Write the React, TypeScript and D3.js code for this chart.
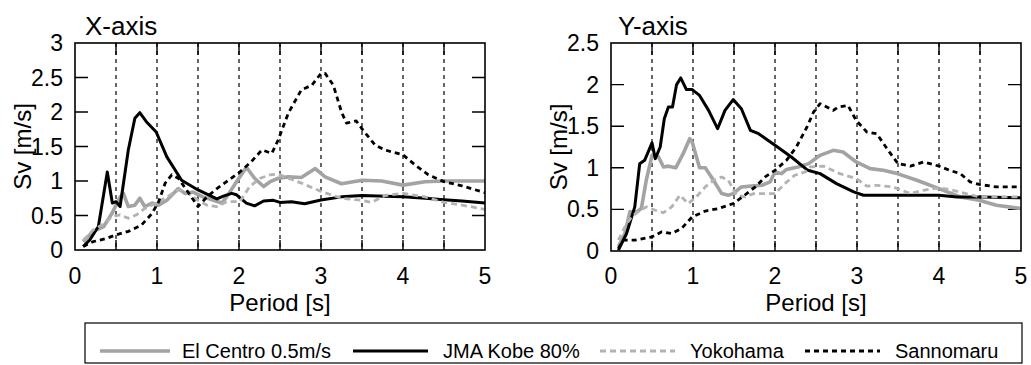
import React, { useEffect, useRef } from 'react';
import * as d3 from 'd3';

// [period (s), Sv (m/s)]
const elCentroX = [[0.1,0.12],[0.22,0.27],[0.35,0.34],[0.45,0.53],[0.55,0.77],[0.59,0.82],[0.65,0.63],[0.73,0.65],[0.79,0.75],[0.85,0.63],[0.94,0.68],[1.02,0.65],[1.12,0.72],[1.26,0.89],[1.34,0.82],[1.44,0.84],[1.56,0.77],[1.69,0.72],[1.79,0.68],[1.85,0.77],[1.97,0.99],[2.09,1.2],[2.19,1.04],[2.3,0.92],[2.38,0.99],[2.48,1.04],[2.6,1.06],[2.76,1.05],[2.93,1.18],[3.05,1.06],[3.25,0.96],[3.5,1.01],[3.74,1.0],[4.0,0.94],[4.27,0.99],[4.5,1.0],[5.0,1.0]];
const kobeX = [[0.1,0.05],[0.18,0.145],[0.285,0.34],[0.394,1.13],[0.455,0.68],[0.5,0.7],[0.55,0.63],[0.65,1.45],[0.73,1.91],[0.79,1.99],[0.87,1.86],[0.99,1.71],[1.12,1.35],[1.3,1.01],[1.5,0.87],[1.73,0.74],[1.81,0.78],[1.91,0.82],[1.97,0.8],[2.09,0.68],[2.19,0.64],[2.3,0.71],[2.42,0.72],[2.5,0.69],[2.64,0.7],[2.8,0.67],[3.0,0.725],[3.25,0.77],[3.5,0.79],[3.78,0.78],[4.0,0.77],[4.27,0.75],[4.5,0.73],[4.72,0.71],[5.0,0.68]];
const yokohamaX = [[0.1,0.14],[0.22,0.29],[0.35,0.38],[0.45,0.48],[0.55,0.51],[0.65,0.46],[0.75,0.51],[0.85,0.6],[0.99,0.68],[1.12,0.77],[1.26,0.87],[1.36,0.84],[1.5,0.72],[1.61,0.65],[1.73,0.63],[1.85,0.7],[2.01,0.7],[2.13,0.92],[2.26,1.04],[2.38,1.09],[2.48,1.1],[2.6,1.04],[2.76,0.97],[3.0,0.85],[3.25,0.75],[3.5,0.72],[3.62,0.69],[3.78,0.79],[4.0,0.82],[4.27,0.77],[4.5,0.69],[4.72,0.65],[5.0,0.59]];
const sannomaruX = [[0.1,0.05],[0.22,0.12],[0.39,0.17],[0.5,0.22],[0.65,0.27],[0.81,0.36],[0.94,0.53],[1.02,0.7],[1.1,0.97],[1.18,1.09],[1.26,1.04],[1.36,0.87],[1.5,0.63],[1.61,0.77],[1.73,0.89],[1.87,1.01],[2.01,1.13],[2.15,1.28],[2.28,1.45],[2.4,1.4],[2.48,1.6],[2.6,1.98],[2.76,2.32],[2.89,2.39],[3.0,2.56],[3.05,2.56],[3.15,2.39],[3.25,2.0],[3.31,1.84],[3.43,1.87],[3.51,1.74],[3.66,1.52],[3.78,1.45],[4.0,1.38],[4.15,1.23],[4.31,1.09],[4.5,0.99],[4.72,0.93],[5.0,0.83]];

const elCentroY = [[0.09,0.05],[0.17,0.21],[0.23,0.47],[0.31,0.47],[0.37,0.51],[0.43,0.85],[0.5,1.15],[0.58,1.13],[0.64,1.01],[0.7,1.02],[0.79,1.0],[0.88,1.17],[0.96,1.35],[0.99,1.31],[1.08,1.0],[1.15,1.0],[1.25,0.85],[1.35,0.69],[1.43,0.67],[1.49,0.69],[1.59,0.77],[1.71,0.78],[1.84,0.79],[1.94,0.83],[2.0,0.95],[2.08,0.93],[2.14,0.98],[2.28,1.01],[2.41,1.05],[2.55,1.15],[2.71,1.21],[2.83,1.19],[2.99,1.07],[3.16,0.99],[3.32,0.97],[3.49,0.93],[3.73,0.85],[4.0,0.75],[4.26,0.65],[4.49,0.61],[4.7,0.55],[5.0,0.51]];
const kobeY = [[0.09,0.01],[0.19,0.21],[0.29,0.53],[0.35,1.05],[0.41,1.09],[0.5,1.3],[0.54,1.11],[0.6,1.25],[0.65,1.59],[0.7,1.73],[0.75,1.73],[0.8,2.0],[0.85,2.08],[0.92,1.94],[0.99,1.94],[1.08,1.87],[1.19,1.69],[1.3,1.47],[1.39,1.69],[1.49,1.82],[1.59,1.71],[1.7,1.45],[1.8,1.41],[2.0,1.27],[2.2,1.13],[2.4,0.97],[2.55,0.93],[2.75,0.81],[2.96,0.71],[3.08,0.67],[3.48,0.67],[4.0,0.67],[4.22,0.65],[4.49,0.65],[5.0,0.64]];
const yokohamaY = [[0.09,0.13],[0.17,0.29],[0.25,0.41],[0.33,0.47],[0.43,0.53],[0.54,0.49],[0.64,0.46],[0.74,0.53],[0.84,0.67],[0.94,0.57],[1.04,0.65],[1.15,0.77],[1.25,0.85],[1.35,0.89],[1.43,0.85],[1.53,0.67],[1.63,0.65],[1.74,0.69],[1.88,0.69],[2.0,0.69],[2.12,0.81],[2.24,0.91],[2.37,0.95],[2.43,1.01],[2.59,1.02],[2.79,0.93],[2.99,0.87],[3.12,0.78],[3.24,0.79],[3.44,0.77],[3.65,0.69],[3.81,0.73],[4.0,0.76],[4.17,0.73],[4.49,0.65],[5.0,0.65]];
const sannomaruY = [[0.09,0.03],[0.15,0.13],[0.29,0.13],[0.5,0.17],[0.62,0.23],[0.74,0.21],[0.86,0.27],[0.99,0.41],[1.15,0.48],[1.31,0.51],[1.49,0.57],[1.63,0.67],[1.76,0.77],[1.88,0.89],[2.0,0.97],[2.14,1.09],[2.26,1.25],[2.39,1.49],[2.47,1.67],[2.55,1.77],[2.71,1.69],[2.77,1.73],[2.89,1.75],[2.99,1.57],[3.12,1.43],[3.24,1.41],[3.38,1.21],[3.5,1.05],[3.65,1.02],[3.81,1.07],[4.0,1.02],[4.13,0.97],[4.26,0.93],[4.38,0.83],[4.49,0.8],[4.7,0.77],[5.0,0.77]];

const seriesNames = ['El Centro 0.5m/s', 'JMA Kobe 80%', 'Yokohama', 'Sannomaru'];
const xTicks = [0, 1, 2, 3, 4, 5];
const gridTicks = [0.5, 1, 1.5, 2, 2.5, 3, 3.5, 4, 4.5];

const styles = [
  { color: '#a3a3a3', width: 3.6, dash: null },
  { color: '#000', width: 3, dash: null },
  { color: '#b3b3b3', width: 2.8, dash: '6,4' },
  { color: '#000', width: 2.8, dash: '5,4' },
];

const panels = [
  { title: 'X-axis', yMax: 3, left: 75, right: 485, top: 43, bottom: 250, titleX: 85, labelX: 31, data: [elCentroX, kobeX, yokohamaX, sannomaruX] },
  { title: 'Y-axis', yMax: 2.5, left: 611, right: 1021, top: 43, bottom: 251, titleX: 618, labelX: 567, data: [elCentroY, kobeY, yokohamaY, sannomaruY] },
];

const FONT = '"Liberation Sans", Arial, sans-serif';

const App = () => {
  const svgRef = useRef();

  useEffect(() => {
    const svg = d3.select(svgRef.current);
    svg.selectAll('*').remove();

    panels.forEach((p) => {
      const x = d3.scaleLinear().domain([0, 5]).range([p.left, p.right]);
      const y = d3.scaleLinear().domain([0, p.yMax]).range([p.bottom, p.top]);
      const g = svg.append('g');

      // dashed grid at every 0.5 s
      g.selectAll('.grid')
        .data(gridTicks)
        .enter()
        .append('line')
        .attr('x1', (d) => x(d)).attr('x2', (d) => x(d))
        .attr('y1', p.top).attr('y2', p.bottom)
        .attr('stroke', '#000').attr('stroke-width', 1.2)
        .attr('stroke-dasharray', '4,4');

      // short solid ticks top and bottom
      g.selectAll('.xt')
        .data(gridTicks)
        .enter()
        .append('path')
        .attr('d', (d) => `M${x(d)},${p.bottom}v-10M${x(d)},${p.top}v12`)
        .attr('stroke', '#000').attr('stroke-width', 1.4);

      const yTicks = d3.range(0, p.yMax + 0.001, 0.5);
      g.selectAll('.yt')
        .data(yTicks.slice(1, -1))
        .enter()
        .append('path')
        .attr('d', (d) => `M${p.left},${y(d)}h13M${p.right},${y(d)}h-13`)
        .attr('stroke', '#000').attr('stroke-width', 1.4);

      // series
      const line = d3.line().x((d) => x(d[0])).y((d) => y(d[1]));
      p.data.forEach((s, i) => {
        const st = styles[i];
        g.append('path')
          .attr('d', line(s))
          .attr('fill', 'none')
          .attr('stroke', st.color)
          .attr('stroke-width', st.width)
          .attr('stroke-linejoin', 'round')
          .attr('stroke-dasharray', st.dash);
      });

      // frame
      g.append('rect')
        .attr('x', p.left).attr('y', p.top)
        .attr('width', p.right - p.left).attr('height', p.bottom - p.top)
        .attr('fill', 'none').attr('stroke', '#000').attr('stroke-width', 1.6);

      // y tick labels
      g.selectAll('.yl')
        .data(yTicks)
        .enter()
        .append('text')
        .attr('x', p.left - 12)
        .attr('y', (d) => y(d))
        .attr('dy', '0.35em')
        .attr('text-anchor', 'end')
        .style('font-family', FONT).style('font-size', '23px')
        .text((d) => String(d));

      // x tick labels
      g.selectAll('.xl')
        .data(xTicks)
        .enter()
        .append('text')
        .attr('x', (d) => x(d))
        .attr('y', 284)
        .attr('text-anchor', 'middle')
        .style('font-family', FONT).style('font-size', '23px')
        .text((d) => String(d));

      g.append('text')
        .attr('x', (p.left + p.right) / 2).attr('y', 311)
        .attr('text-anchor', 'middle')
        .style('font-family', FONT).style('font-size', '24px')
        .text('Period [s]');

      g.append('text')
        .attr('transform', `translate(${p.labelX},${(p.top + p.bottom) / 2}) rotate(-90)`)
        .attr('text-anchor', 'middle')
        .style('font-family', FONT).style('font-size', '24px')
        .text('Sv [m/s]');

      g.append('text')
        .attr('x', p.titleX).attr('y', 35)
        .style('font-family', FONT).style('font-size', '26px')
        .text(p.title);
    });

    // legend
    const lg = svg.append('g');
    lg.append('rect')
      .attr('x', 85).attr('y', 323).attr('width', 937).attr('height', 40)
      .attr('fill', '#fff').attr('stroke', '#000').attr('stroke-width', 1.2);
    const items = [
      { x1: 100, x2: 170, tx: 182 },
      { x1: 353, x2: 428, tx: 443 },
      { x1: 600, x2: 675, tx: 690 },
      { x1: 805, x2: 880, tx: 895 },
    ];
    items.forEach((it, i) => {
      const st = styles[i];
      lg.append('line')
        .attr('x1', it.x1).attr('x2', it.x2).attr('y1', 351).attr('y2', 351)
        .attr('stroke', st.color).attr('stroke-width', st.width)
        .attr('stroke-dasharray', st.dash);
      lg.append('text')
        .attr('x', it.tx).attr('y', 358)
        .style('font-family', FONT).style('font-size', '20px')
        .text(seriesNames[i]);
    });
  }, []);

  return (
    <svg
      ref={svgRef}
      width={1031}
      height={365}
      style={{ position: 'absolute', left: 0, top: 0, background: '#fff' }}
    />
  );
};

export default App;
